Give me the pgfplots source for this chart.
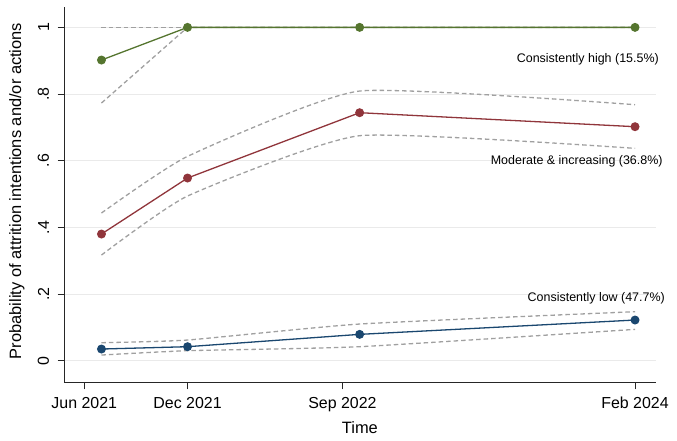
\documentclass[border=0pt]{standalone}
\usepackage{fontspec}
\setmainfont{Liberation Sans}
\usepackage{pgfplots}
\pgfplotsset{compat=1.18}
\definecolor{stnavy}{RGB}{26,71,111}
\definecolor{stmaroon}{RGB}{144,53,59}
\definecolor{stgreen}{RGB}{85,117,47}
\definecolor{cigray}{RGB}{160,160,160}
\definecolor{gridc}{RGB}{234,234,234}
\begin{document}
\begin{tikzpicture}
\path[use as bounding box] (-64.3bp,-58.3bp) rectangle (612.7bp,382.7bp);
\begin{axis}[
  scale only axis,
  width=591.2bp, height=376bp,
  xmin=-1.16, xmax=33.19,
  ymin=-0.066, ymax=1.062,
  axis x line*=bottom, axis y line*=left,
  axis line style={line width=0.9bp, black!85},
  xtick={0,6,15,32},
  xticklabels={Jun 2021,Dec 2021,Sep 2022,Feb 2024},
  ytick={0,0.2,0.4,0.6,0.8,1},
  yticklabels={0,.2,.4,.6,.8,1},
  tick align=outside,
  major tick length=6.7bp,
  tick style={line width=0.9bp, black!85},
  ymajorgrids,
  major grid style={gridc, line width=0.9bp},
  tick label style={font=\fontsize{16}{19}\selectfont},
  yticklabel style={rotate=90, anchor=south},
  yticklabel shift=5bp,
  xticklabel shift=4bp,
  label style={font=\fontsize{16.5}{19}\selectfont},
  xlabel={Time},
  ylabel={Probability of attrition intentions and/or actions},
  xlabel style={at={(axis description cs:0.5,-0.1205)}, anchor=center},
  ylabel style={at={(axis description cs:-0.0804,0.51)}, anchor=center},
  clip=false,
  ci/.style={cigray, line width=1.3bp, dash pattern=on 4.5bp off 3bp},
  main/.style={line width=1.3bp, mark=*, mark size=3.8bp},
]
% Consistently high
\addplot[ci] coordinates {(1,1) (6,1) (16,1) (32,1)};
\addplot[ci] coordinates {(1,0.773) (6,1) (16,1) (32,1)};
\addplot[main, stgreen, mark options={fill=stgreen}] coordinates {(1,0.902) (6,1) (16,1) (32,1)};
% Moderate & increasing
\addplot[ci, smooth, tension=0.3] coordinates {(1,0.443) (6,0.613) (16,0.809) (32,0.768)};
\addplot[ci, smooth, tension=0.3] coordinates {(1,0.317) (6,0.494) (16,0.675) (32,0.637)};
\addplot[main, stmaroon, mark options={fill=stmaroon}] coordinates {(1,0.380) (6,0.548) (16,0.744) (32,0.702)};
% Consistently low
\addplot[ci, smooth, tension=0.3] coordinates {(1,0.054) (6,0.062) (16,0.110) (32,0.147)};
\addplot[ci, smooth, tension=0.3] coordinates {(1,0.017) (6,0.030) (16,0.042) (32,0.094)};
\addplot[main, stnavy, mark options={fill=stnavy}] coordinates {(1,0.035) (6,0.042) (16,0.079) (32,0.122)};
% Labels
\node[anchor=east, font=\fontsize{12.5}{15}\selectfont, inner sep=0pt] at (axis cs:33.39,0.904) {Consistently high (15.5\%)};
\node[anchor=east, font=\fontsize{12.5}{15}\selectfont, inner sep=0pt] at (axis cs:33.61,0.597) {Moderate \& increasing (36.8\%)};
\node[anchor=east, font=\fontsize{12.5}{15}\selectfont, inner sep=0pt] at (axis cs:33.74,0.187) {Consistently low (47.7\%)};
\end{axis}
\end{tikzpicture}
\end{document}
